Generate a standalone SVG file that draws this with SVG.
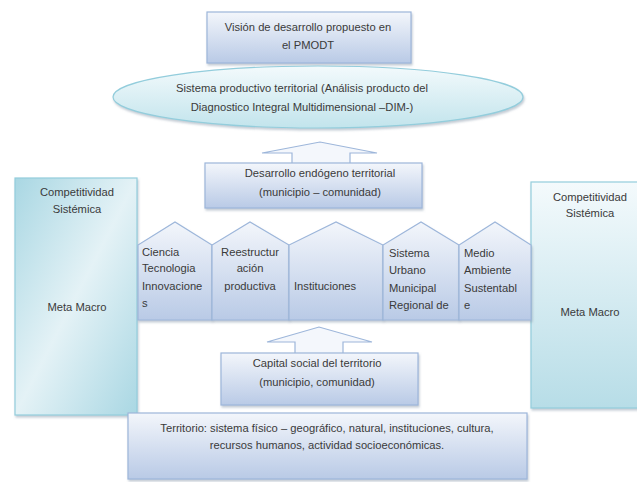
<svg xmlns="http://www.w3.org/2000/svg" width="637" height="482" viewBox="0 0 637 482">
<defs>
<linearGradient id="gBlue" x1="0" y1="0" x2="0" y2="1">
<stop offset="0" stop-color="#f3f6fb"/>
<stop offset="1" stop-color="#b9cae6"/>
</linearGradient>
<linearGradient id="gTeal" x1="0" y1="0" x2="1" y2="1">
<stop offset="0" stop-color="#a9d7e3"/>
<stop offset="0.5" stop-color="#e4f2f6"/>
<stop offset="1" stop-color="#a9d7e3"/>
</linearGradient>
<linearGradient id="gTealR" x1="0" y1="0" x2="0" y2="1">
<stop offset="0" stop-color="#f4fafc"/>
<stop offset="1" stop-color="#b7dde7"/>
</linearGradient>
<linearGradient id="gEll" x1="0" y1="0" x2="0" y2="1">
<stop offset="0" stop-color="#f3fafc"/>
<stop offset="1" stop-color="#c2e4ec"/>
</linearGradient>
<filter id="sh" x="-10%" y="-10%" width="120%" height="130%">
<feDropShadow dx="1" dy="2" stdDeviation="1.2" flood-color="#8899aa" flood-opacity="0.5"/>
</filter>
</defs>
<style>
.box{fill:url(#gBlue);stroke:#9db6da;stroke-width:1.2}
.teal{stroke:#93cddc;stroke-width:1.2}
.arrow{fill:#f4f7fc;stroke:#9db6da;stroke-width:1.2}
text{font-family:"Liberation Sans",Arial,sans-serif;font-size:11.2px;fill:#3a3a3a}
.c{text-anchor:middle}
</style>

<g id="competitividad-izq">
<rect x="15" y="178" width="122" height="237" class="teal" fill="url(#gTeal)" filter="url(#sh)"/>
<text x="77" y="196" class="c">Competitividad</text>
<text x="77" y="213" class="c">Sistémica</text>
<text x="77" y="311" class="c">Meta Macro</text>
</g>

<g id="competitividad-der">
<rect x="531" y="182" width="120" height="226" class="teal" fill="url(#gTealR)" filter="url(#sh)"/>
<text x="590" y="201" class="c">Competitividad</text>
<text x="590" y="217" class="c">Sistémica</text>
<text x="590" y="316" class="c">Meta Macro</text>
</g>

<g id="territorio">
<rect x="128" y="413" width="399" height="66" class="box" filter="url(#sh)"/>
<text x="327" y="432" class="c">Territorio: sistema físico – geográfico, natural, instituciones, cultura,</text>
<text x="327" y="449" class="c">recursos humanos, actividad socioeconómicas.</text>
</g>

<g id="vision">
<rect x="207" y="12" width="204" height="51" class="box" filter="url(#sh)"/>
<text x="308" y="31" class="c">Visión de desarrollo propuesto en</text>
<text x="308" y="49" class="c">el PMODT</text>
</g>

<g id="sistema-productivo">
<ellipse cx="318" cy="97" rx="205" ry="31" fill="url(#gEll)" stroke="#93cddc" stroke-width="1.2" filter="url(#sh)"/>
<text x="302" y="92" class="c">Sistema productivo territorial (Análisis producto del</text>
<text x="302" y="111" class="c">Diagnostico Integral Multidimensional –DIM-)</text>
</g>

<g id="connectors">
<polygon class="arrow" points="292,164 292,153 262,153 320,142 377,153 350,153 350,164"/>
<polygon class="arrow" points="295,354 295,342 267,342 319,327 372,342 343,342 343,354"/>
</g>

<g id="desarrollo">
<rect x="205" y="163" width="217" height="45" class="box" filter="url(#sh)"/>
<text x="320" y="177" class="c">Desarrollo endógeno territorial</text>
<text x="320" y="196" class="c">(municipio – comunidad)</text>
</g>

<g id="ciencia">
<polygon class="box" points="138,320 138,245 175,222 212,245 212,320" filter="url(#sh)"/>
<text x="142" y="256">Ciencia</text>
<text x="142" y="272">Tecnologia</text>
<text x="142" y="290">Innovacione</text>
<text x="142" y="307">s</text>
</g>
<g id="reestructuracion">
<polygon class="box" points="212,320 212,245 250,222 289,245 289,320" filter="url(#sh)"/>
<text x="250" y="256" class="c">Reestructur</text>
<text x="250" y="272" class="c">ación</text>
<text x="250" y="290" class="c">productiva</text>
</g>
<g id="instituciones">
<polygon class="box" points="289,320 289,245 336,222 383,245 383,320" filter="url(#sh)"/>
<text x="294" y="290">Instituciones</text>
</g>
<g id="sistema-urbano">
<polygon class="box" points="383,320 383,245 421,222 459,245 459,320" filter="url(#sh)"/>
<text x="389" y="257">Sistema</text>
<text x="389" y="274">Urbano</text>
<text x="389" y="292">Municipal</text>
<text x="389" y="309">Regional de</text>
</g>
<g id="medio-ambiente">
<polygon class="box" points="459,320 459,245 495,222 531,245 531,320" filter="url(#sh)"/>
<text x="464" y="257">Medio</text>
<text x="464" y="274">Ambiente</text>
<text x="464" y="292">Sustentabl</text>
<text x="464" y="309">e</text>
</g>

<g id="capital-social">
<rect x="221" y="353" width="197" height="52" class="box" filter="url(#sh)"/>
<text x="317" y="367" class="c">Capital social del territorio</text>
<text x="317" y="386" class="c">(municipio, comunidad)</text>
</g>
</svg>
